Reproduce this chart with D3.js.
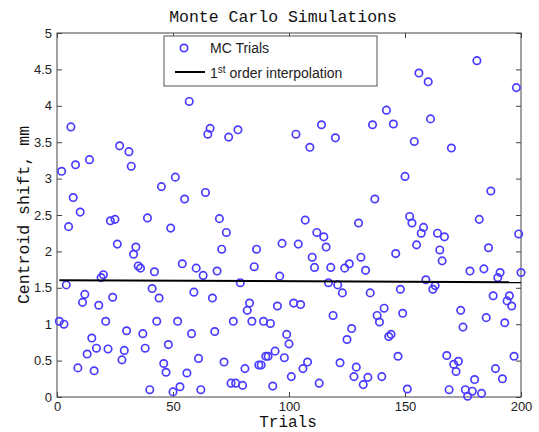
<!DOCTYPE html>
<html>
<head>
<meta charset="utf-8">
<script src="https://cdn.jsdelivr.net/npm/d3@7/dist/d3.min.js"></script>
<style>
  html, body { margin: 0; padding: 0; background: #fff; }
  svg { display: block; }
  .tick text { font-family: "Liberation Sans", Arial, sans-serif; font-size: 13px; fill: #222; }
  .tick line { stroke: #444; stroke-width: 1; }
</style>
</head>
<body>
<svg id="chart" width="539" height="432"></svg>
<script>
// Centroid shift (mm) for each Monte Carlo trial, trial 1 .. 200
const shiftMm = [
  1.04, 3.10, 1.00, 1.54, 2.34, 3.71, 2.74, 3.19, 0.40, 2.54,
  1.30, 1.41, 0.59, 3.26, 0.81, 0.36, 0.67, 1.26, 1.64, 1.68,
  1.04, 0.66, 2.42, 1.37, 2.44, 2.10, 3.45, 0.51, 0.64, 0.91,
  3.37, 3.17, 1.96, 2.06, 1.80, 1.77, 0.87, 0.67, 2.46, 0.10,
  1.49, 1.72, 1.04, 1.36, 2.89, 0.46, 0.34, 0.72, 2.32, 0.07,
  3.02, 1.04, 0.14, 1.83, 2.72, 0.33, 4.06, 0.87, 1.44, 1.77,
  0.53, 0.10, 1.67, 2.81, 3.61, 3.69, 1.36, 0.90, 1.73, 2.45,
  2.03, 0.48, 2.26, 3.57, 0.19, 1.04, 0.19, 3.67, 1.57, 0.16,
  0.39, 1.19, 1.29, 1.04, 1.79, 2.03, 0.44, 0.44, 1.04, 0.56,
  0.56, 1.01, 0.15, 0.63, 1.25, 1.66, 2.11, 0.54, 0.86, 0.73,
  0.28, 1.29, 3.61, 2.10, 1.27, 0.39, 2.43, 0.48, 3.43, 1.92,
  1.78, 2.26, 0.19, 3.74, 2.20, 2.06, 1.57, 1.78, 1.12, 3.56,
  1.54, 0.47, 1.43, 1.77, 0.79, 1.83, 0.94, 0.28, 0.41, 2.39,
  1.92, 0.17, 1.74, 0.27, 1.43, 3.74, 2.72, 1.12, 1.03, 0.28,
  1.22, 3.94, 0.83, 0.86, 3.75, 1.97, 0.56, 1.48, 1.15, 3.03,
  0.11, 2.48, 2.39, 3.51, 2.09, 4.45, 2.25, 2.33, 1.61, 4.33,
  3.82, 1.48, 1.53, 2.25, 2.02, 1.87, 2.20, 0.57, 0.10, 3.42,
  0.45, 0.35, 0.49, 1.19, 0.96, 0.10, 0.01, 1.73, 0.08, 0.24,
  4.62, 2.44, 0.05, 1.76, 1.09, 2.05, 2.83, 1.39, 0.39, 1.64,
  1.71, 0.25, 1.02, 1.32, 1.39, 1.25, 0.56, 4.25, 2.24, 1.71
];
const trialNumbers = shiftMm.map((_, i) => i + 1);

// First-order (linear) fit, evaluated at the first and last trial
const fitTrials = [1, 200];
const fitShift = [1.605, 1.575];

// Axis ticks
const xTickValues = [0, 50, 100, 150, 200];
const xTickLabels = ["0", "50", "100", "150", "200"];
const yTickValues = [0, 0.5, 1, 1.5, 2, 2.5, 3, 3.5, 4, 4.5, 5];
const yTickLabels = ["0", "0.5", "1", "1.5", "2", "2.5", "3", "3.5", "4", "4.5", "5"];

const legendLabels = ["MC Trials", "order interpolation"];

const svg = d3.select("#chart");
const plot = { left: 57, right: 521, top: 33, bottom: 397 };
const markerColor = "#4a3cff";

const x = d3.scaleLinear().domain([0, 200]).range([plot.left, plot.right]);
const y = d3.scaleLinear().domain([0, 5]).range([plot.bottom, plot.top]);

// Title and axis labels
const mono = "'Liberation Mono', 'Courier New', monospace";
svg.append("text")
  .attr("x", 283).attr("y", 22)
  .attr("text-anchor", "middle")
  .style("font-family", mono).style("font-size", "16.5px").style("fill", "#111")
  .text("Monte Carlo Simulations");
svg.append("text")
  .attr("x", 288).attr("y", 427)
  .attr("text-anchor", "middle")
  .style("font-family", mono).style("font-size", "16px").style("fill", "#111")
  .text("Trials");
svg.append("text")
  .attr("transform", `translate(29,${(plot.top + plot.bottom) / 2}) rotate(-90)`)
  .attr("text-anchor", "middle")
  .style("font-family", mono).style("font-size", "16.5px").style("fill", "#111")
  .text("Centroid shift, mm");

// Axes with inward ticks on all four sides
const tickLen = 5;
const xFmt = (d) => xTickLabels[xTickValues.indexOf(d)];
const yFmt = (d) => yTickLabels[yTickValues.indexOf(d)];

const gBottom = svg.append("g").attr("transform", `translate(0,${plot.bottom})`)
  .call(d3.axisBottom(x).tickValues(xTickValues).tickFormat(xFmt)
    .tickSizeInner(-tickLen).tickSizeOuter(0).tickPadding(3));
const gTop = svg.append("g").attr("transform", `translate(0,${plot.top})`)
  .call(d3.axisTop(x).tickValues(xTickValues).tickFormat("")
    .tickSizeInner(-tickLen).tickSizeOuter(0));
const gLeft = svg.append("g").attr("transform", `translate(${plot.left},0)`)
  .call(d3.axisLeft(y).tickValues(yTickValues).tickFormat(yFmt)
    .tickSizeInner(-tickLen).tickSizeOuter(0).tickPadding(5));
const gRight = svg.append("g").attr("transform", `translate(${plot.right},0)`)
  .call(d3.axisRight(y).tickValues(yTickValues).tickFormat("")
    .tickSizeInner(-tickLen).tickSizeOuter(0));
[gBottom, gTop, gLeft, gRight].forEach((g) => g.select(".domain").remove());
gBottom.selectAll(".tick text").attr("dy", "0.85em");

// Plot box
svg.append("rect")
  .attr("x", plot.left).attr("y", plot.top)
  .attr("width", plot.right - plot.left).attr("height", plot.bottom - plot.top)
  .attr("fill", "none").attr("stroke", "#444").attr("stroke-width", 1);

// Trial markers
svg.append("g")
  .selectAll("circle")
  .data(shiftMm)
  .join("circle")
  .attr("cx", (d, i) => x(trialNumbers[i]))
  .attr("cy", (d) => y(d))
  .attr("r", 3.7)
  .attr("fill", "none")
  .attr("stroke", markerColor)
  .attr("stroke-width", 1.7);

// Linear fit
svg.append("path")
  .datum(fitTrials.map((t, i) => [t, fitShift[i]]))
  .attr("d", d3.line().x((d) => x(d[0])).y((d) => y(d[1])))
  .attr("fill", "none").attr("stroke", "#000").attr("stroke-width", 2);

// Legend
const sans = "'Liberation Sans', Arial, sans-serif";
const legend = svg.append("g");
legend.append("rect")
  .attr("x", 164).attr("y", 36).attr("width", 213).attr("height", 50)
  .attr("fill", "#fff").attr("stroke", "#555").attr("stroke-width", 1);
legend.append("circle")
  .attr("cx", 184).attr("cy", 48).attr("r", 3.7)
  .attr("fill", "none").attr("stroke", markerColor).attr("stroke-width", 1.7);
legend.append("text")
  .attr("x", 210).attr("y", 53)
  .style("font-family", sans).style("font-size", "14px").style("fill", "#222")
  .text(legendLabels[0]);
legend.append("line")
  .attr("x1", 175).attr("x2", 205).attr("y1", 72).attr("y2", 72)
  .attr("stroke", "#000").attr("stroke-width", 2);
const fitLabel = legend.append("text")
  .attr("x", 210).attr("y", 78)
  .style("font-family", sans).style("font-size", "14px").style("fill", "#222");
fitLabel.append("tspan").text("1");
fitLabel.append("tspan").attr("dy", "-5").style("font-size", "10px").text("st");
fitLabel.append("tspan").attr("dy", "5").text(" " + legendLabels[1]);
</script>
</body>
</html>
